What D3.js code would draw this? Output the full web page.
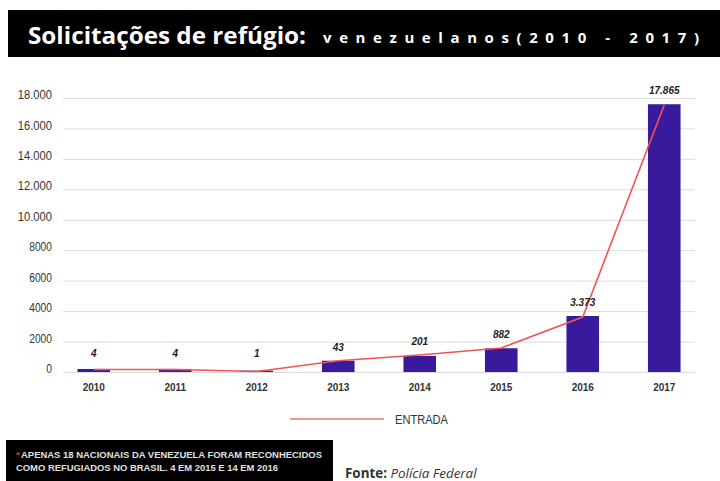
<!DOCTYPE html>
<html>
<head>
<meta charset="utf-8">
<script src="https://cdn.jsdelivr.net/npm/d3@7"></script>
<style>
  html, body { margin: 0; padding: 0; background: #fff; }
  svg { display: block; }
</style>
</head>
<body>
<svg id="chart" width="720" height="481"></svg>
<script>
// ---- data ----
const years = ["2010", "2011", "2012", "2013", "2014", "2015", "2016", "2017"];
const barValues = [200, 200, 90, 740, 1050, 1560, 3680, 17590];
const lineValues = [165, 165, 30, 740, 1120, 1580, 3610, 17540];
const valueLabels = ["4", "4", "1", "43", "201", "882", "3.373", "17.865"];
const tickValues = [0, 2000, 4000, 6000, 8000, 10000, 12000, 14000, 16000, 18000];
const tickLabels = ["0", "2000", "4000", "6000", "8000", "10.000", "12.000", "14.000", "16.000", "18.000"];
const titleMain = "Solicitações de refúgio:";
const titleSub = "venezuelanos(2010 - 2017)";
const legendLabel = "ENTRADA";
const noteLines = ["APENAS 18 NACIONAIS DA VENEZUELA FORAM RECONHECIDOS", "COMO REFUGIADOS NO BRASIL. 4 EM 2015 E 14 EM 2016"];
const sourceBold = "Fonte:";
const sourceItalic = "Polícia Federal";

const svg = d3.select("#chart");
const narrow = '"Liberation Sans Narrow", "Arial Narrow", "Liberation Sans", Arial, sans-serif';

// ---- title bar ----
svg.append("rect").attr("x", 8).attr("y", 10).attr("width", 712).attr("height", 47).attr("fill", "#000");
svg.append("text").attr("x", 28).attr("y", 44)
  .attr("font-family", '"Open Sans", "Noto Sans", sans-serif').attr("font-weight", 700)
  .attr("font-size", 24).attr("fill", "#fff")
  .attr("textLength", 278).attr("lengthAdjust", "spacingAndGlyphs")
  .text(titleMain);
svg.append("text").attr("x", 323).attr("y", 43)
  .attr("font-family", '"Open Sans", "Noto Sans", sans-serif').attr("font-weight", 700)
  .attr("font-size", 15).attr("fill", "#fff")
  .attr("textLength", 376).attr("lengthAdjust", "spacing")
  .text(titleSub);

// ---- scales ----
const x = d3.scaleBand().domain(years).range([53, 705]).paddingInner(0.6).paddingOuter(0.3);
const y = d3.scaleLinear().domain([0, 18000]).range([372, 98]);

// ---- y axis / grid ----
const yAxis = svg.append("g").attr("transform", "translate(63,0)")
  .call(d3.axisLeft(y).tickValues(tickValues).tickFormat((d, i) => tickLabels[i]).tickSize(-632).tickPadding(11));
yAxis.select(".domain").remove();
yAxis.selectAll(".tick line").attr("stroke", "#dcdcdc").attr("stroke-width", 1);
yAxis.selectAll(".tick text").attr("font-family", narrow).attr("font-size", 12)
  .attr("fill", "#333").attr("dy", "0.05em")
  .attr("textLength", (d, i) => tickLabels[i].length * 5.7)
  .attr("lengthAdjust", "spacingAndGlyphs");

// ---- x axis ----
const xAxis = svg.append("g").attr("transform", "translate(0,372)")
  .call(d3.axisBottom(x).tickSize(0).tickPadding(12));
xAxis.select(".domain").remove();
xAxis.selectAll(".tick text").attr("font-family", narrow).attr("font-size", 10)
  .attr("font-weight", 700).attr("fill", "#333");

// ---- bars ----
svg.append("g").selectAll("rect").data(years).join("rect")
  .attr("x", d => x(d))
  .attr("width", x.bandwidth())
  .attr("y", (d, i) => y(barValues[i]))
  .attr("height", (d, i) => y(0) - y(barValues[i]))
  .attr("fill", "#3a1a9c");

// ---- line ----
const line = d3.line()
  .x((d, i) => x(years[i]) + x.bandwidth() / 2)
  .y(d => y(d));
svg.append("path").datum(lineValues)
  .attr("d", line).attr("fill", "none")
  .attr("stroke", "#f05454").attr("stroke-width", 1.6);

// ---- value labels ----
svg.append("g").selectAll("text").data(years).join("text")
  .attr("x", d => x(d) + x.bandwidth() / 2)
  .attr("y", (d, i) => Math.min(y(Math.max(barValues[i], lineValues[i])) - 10, 357))
  .attr("text-anchor", "middle")
  .attr("font-family", narrow).attr("font-size", 10)
  .attr("font-weight", 700).attr("font-style", "italic").attr("fill", "#222")
  .text((d, i) => valueLabels[i]);

// ---- legend ----
svg.append("line").attr("x1", 290).attr("x2", 384).attr("y1", 419).attr("y2", 419)
  .attr("stroke", "#f07272").attr("stroke-width", 1.6);
svg.append("text").attr("x", 395).attr("y", 424)
  .attr("font-family", narrow).attr("font-size", 12).attr("fill", "#333")
  .attr("textLength", 53).attr("lengthAdjust", "spacingAndGlyphs")
  .text(legendLabel);

// ---- footnote ----
svg.append("rect").attr("x", 6).attr("y", 440).attr("width", 327).attr("height", 41).attr("fill", "#000");
const note = svg.append("text").attr("font-family", narrow).attr("font-size", 9)
  .attr("font-weight", 700).attr("fill", "#e0e0e0");
note.append("tspan").attr("x", 16).attr("y", 458).attr("fill", "#e83030").text("*");
note.append("tspan").attr("x", 21).attr("y", 458)
  .attr("textLength", 301).attr("lengthAdjust", "spacingAndGlyphs").text(noteLines[0]);
note.append("tspan").attr("x", 16).attr("y", 471)
  .attr("textLength", 262).attr("lengthAdjust", "spacingAndGlyphs").text(noteLines[1]);

// ---- source ----
const src = svg.append("text").attr("x", 345).attr("y", 478)
  .attr("font-family", '"Open Sans", "Noto Sans", sans-serif').attr("font-size", 13.4).attr("fill", "#333");
src.append("tspan").attr("font-weight", 700).text(sourceBold + " ");
src.append("tspan").attr("font-style", "italic").text(sourceItalic);
</script>
</body>
</html>
